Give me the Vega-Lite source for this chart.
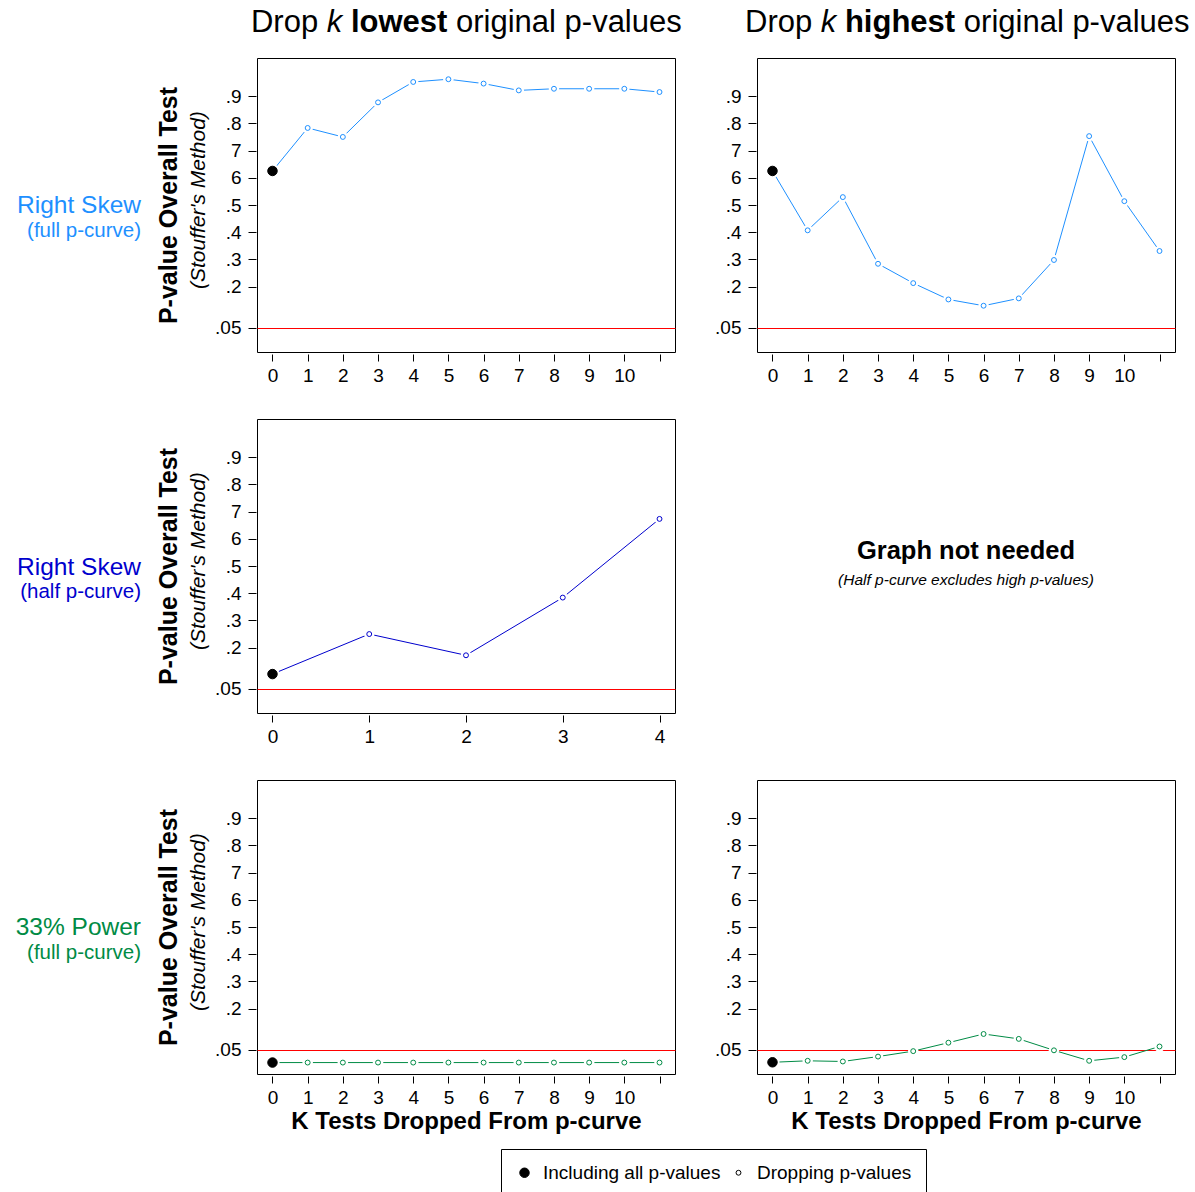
{
  "$schema": "https://vega.github.io/schema/vega-lite/v6.json",
  "background": "white",
  "padding": {"left": 15, "top": 6, "right": 5, "bottom": 0},
  "datasets": {
    "rs_full_low": [
      {"k": 0, "p": 0.625, "type": "Including all p-values"},
      {"k": 1, "p": 0.783, "type": "Dropping p-values"},
      {"k": 2, "p": 0.750, "type": "Dropping p-values"},
      {"k": 3, "p": 0.877, "type": "Dropping p-values"},
      {"k": 4, "p": 0.952, "type": "Dropping p-values"},
      {"k": 5, "p": 0.962, "type": "Dropping p-values"},
      {"k": 6, "p": 0.946, "type": "Dropping p-values"},
      {"k": 7, "p": 0.921, "type": "Dropping p-values"},
      {"k": 8, "p": 0.927, "type": "Dropping p-values"},
      {"k": 9, "p": 0.927, "type": "Dropping p-values"},
      {"k": 10, "p": 0.927, "type": "Dropping p-values"},
      {"k": 11, "p": 0.915, "type": "Dropping p-values"}
    ],
    "rs_full_high": [
      {"k": 0, "p": 0.625, "type": "Including all p-values"},
      {"k": 1, "p": 0.407, "type": "Dropping p-values"},
      {"k": 2, "p": 0.529, "type": "Dropping p-values"},
      {"k": 3, "p": 0.284, "type": "Dropping p-values"},
      {"k": 4, "p": 0.213, "type": "Dropping p-values"},
      {"k": 5, "p": 0.153, "type": "Dropping p-values"},
      {"k": 6, "p": 0.130, "type": "Dropping p-values"},
      {"k": 7, "p": 0.157, "type": "Dropping p-values"},
      {"k": 8, "p": 0.298, "type": "Dropping p-values"},
      {"k": 9, "p": 0.753, "type": "Dropping p-values"},
      {"k": 10, "p": 0.514, "type": "Dropping p-values"},
      {"k": 11, "p": 0.331, "type": "Dropping p-values"}
    ],
    "rs_half_low": [
      {"k": 0, "p": 0.103, "type": "Including all p-values"},
      {"k": 1, "p": 0.250, "type": "Dropping p-values"},
      {"k": 2, "p": 0.172, "type": "Dropping p-values"},
      {"k": 3, "p": 0.384, "type": "Dropping p-values"},
      {"k": 4, "p": 0.673, "type": "Dropping p-values"}
    ],
    "p33_low": [
      {"k": 0, "p": 0.002, "type": "Including all p-values"},
      {"k": 1, "p": 0.002, "type": "Dropping p-values"},
      {"k": 2, "p": 0.002, "type": "Dropping p-values"},
      {"k": 3, "p": 0.002, "type": "Dropping p-values"},
      {"k": 4, "p": 0.002, "type": "Dropping p-values"},
      {"k": 5, "p": 0.002, "type": "Dropping p-values"},
      {"k": 6, "p": 0.002, "type": "Dropping p-values"},
      {"k": 7, "p": 0.002, "type": "Dropping p-values"},
      {"k": 8, "p": 0.002, "type": "Dropping p-values"},
      {"k": 9, "p": 0.002, "type": "Dropping p-values"},
      {"k": 10, "p": 0.002, "type": "Dropping p-values"},
      {"k": 11, "p": 0.002, "type": "Dropping p-values"}
    ],
    "p33_high": [
      {"k": 0, "p": 0.003, "type": "Including all p-values"},
      {"k": 1, "p": 0.0085, "type": "Dropping p-values"},
      {"k": 2, "p": 0.006, "type": "Dropping p-values"},
      {"k": 3, "p": 0.024, "type": "Dropping p-values"},
      {"k": 4, "p": 0.044, "type": "Dropping p-values"},
      {"k": 5, "p": 0.075, "type": "Dropping p-values"},
      {"k": 6, "p": 0.107, "type": "Dropping p-values"},
      {"k": 7, "p": 0.089, "type": "Dropping p-values"},
      {"k": 8, "p": 0.047, "type": "Dropping p-values"},
      {"k": 9, "p": 0.0085, "type": "Dropping p-values"},
      {"k": 10, "p": 0.022, "type": "Dropping p-values"},
      {"k": 11, "p": 0.061, "type": "Dropping p-values"}
    ]
  },
  "columns": 2,
  "spacing": {"row": 67, "column": 82},
  "bounds": "flush",
  "resolve": {"scale": {"fill": "shared", "size": "shared", "stroke": "shared"}},
  "concat": [
    {
      "width": 418, "height": 294,
      "data": {"name": "rs_full_low"},
      "layer": [
        {"mark": {"type": "line", "color": "#1E90FF", "strokeWidth": 1},
         "encoding": {
           "x": {"field": "k", "type": "quantitative", "scale": {"domain": [-0.44, 11.44], "nice": false, "zero": false},
                 "axis": {"values": [0,1,2,3,4,5,6,7,8,9,10,11], "tickCount": 30, "labelExpr": "datum.value <= 10 ? format(datum.value, 'd') : ''", "labelOverlap": false, "offset": 2, "tickSize": 7, "labelPadding": 5, "title": null}},
           "y": {"field": "p", "type": "quantitative", "scale": {"domain": [-0.04, 1.04], "nice": false, "zero": false},
                 "axis": {"values": [0.05,0.2,0.3,0.4,0.5,0.6,0.7,0.8,0.9], "tickCount": 30, "labelExpr": "datum.value == 0.7 ? '7' : datum.value == 0.6 ? '6' : replace(format(datum.value, '.2~f'), '0.', '.')", "labelOverlap": false, "offset": 1, "tickSize": 8, "labelPadding": 7,
                          "grid": true, "gridColor": "#FF0000", "gridWidth": 1, "gridOpacity": {"condition": {"test": "datum.value == 0.05", "value": 1}, "value": 0},
                          "title": "P-value Overall Test", "titleFontSize": 25, "titleFontWeight": "bold", "titlePadding": 33}}}},
        {"mark": {"type": "point", "filled": true, "fill": "white", "strokeWidth": 0, "opacity": 1},
         "encoding": {"x": {"field": "k", "type": "quantitative"}, "y": {"field": "p", "type": "quantitative"},
                      "size": {"condition": {"test": "datum.k === 0", "value": 200}, "value": 110}}},
        {"transform": [{"filter": "datum.k > 0"}],
         "mark": {"type": "point", "filled": true, "fill": "white", "stroke": "#1E90FF", "strokeWidth": 1, "size": 24, "opacity": 1},
         "encoding": {"x": {"field": "k", "type": "quantitative"}, "y": {"field": "p", "type": "quantitative"}}},
        {"transform": [{"filter": "datum.k === 0"}],
         "mark": {"type": "point", "filled": true, "strokeWidth": 1, "opacity": 1},
         "encoding": {"x": {"field": "k", "type": "quantitative"}, "y": {"field": "p", "type": "quantitative"},
                      "fill": {"field": "type", "type": "ordinal", "scale": {"domain": ["Including all p-values", "Dropping p-values"], "range": ["black", "white"]}, "legend": {"title": null}},
                      "size": {"field": "type", "type": "ordinal", "scale": {"domain": ["Including all p-values", "Dropping p-values"], "range": [90, 24]}, "legend": {"title": null}},
                      "stroke": {"field": "type", "type": "ordinal", "scale": {"domain": ["Including all p-values", "Dropping p-values"], "range": ["black", "black"]}, "legend": {"title": null}}}},
        {"data": {"values": [{"t": "Drop"}]}, "mark": {"type": "text", "align": "left", "baseline": "alphabetic", "fontSize": 31},
         "encoding": {"x": {"datum": -0.611, "type": "quantitative"}, "y": {"datum": 1.137, "type": "quantitative"}, "text": {"field": "t"}}},
        {"data": {"values": [{"t": "k"}]}, "mark": {"type": "text", "align": "left", "baseline": "alphabetic", "fontSize": 31, "fontStyle": "italic"},
         "encoding": {"x": {"datum": 1.544, "type": "quantitative"}, "y": {"datum": 1.137, "type": "quantitative"}, "text": {"field": "t"}}},
        {"data": {"values": [{"t": "lowest"}]}, "mark": {"type": "text", "align": "left", "baseline": "alphabetic", "fontSize": 31, "fontWeight": "bold"},
         "encoding": {"x": {"datum": 2.229, "type": "quantitative"}, "y": {"datum": 1.137, "type": "quantitative"}, "text": {"field": "t"}}},
        {"data": {"values": [{"t": "original p-values"}]}, "mark": {"type": "text", "align": "left", "baseline": "alphabetic", "fontSize": 31},
         "encoding": {"x": {"datum": 5.216, "type": "quantitative"}, "y": {"datum": 1.137, "type": "quantitative"}, "text": {"field": "t"}}},
        {"data": {"values": [{"t": "Right Skew"}]}, "mark": {"type": "text", "align": "right", "baseline": "alphabetic", "fontSize": 24.5, "color": "#1E90FF"},
         "encoding": {"x": {"datum": -3.737, "type": "quantitative"}, "y": {"datum": 0.4695, "type": "quantitative"}, "text": {"field": "t"}}},
        {"data": {"values": [{"t": "(full p-curve)"}]}, "mark": {"type": "text", "align": "right", "baseline": "alphabetic", "fontSize": 20.5, "color": "#1E90FF"},
         "encoding": {"x": {"datum": -3.737, "type": "quantitative"}, "y": {"datum": 0.3824, "type": "quantitative"}, "text": {"field": "t"}}},
        {"data": {"values": [{"t": "(Stouffer's Method)"}]}, "mark": {"type": "text", "align": "center", "baseline": "middle", "fontSize": 21, "fontStyle": "italic", "angle": 270},
         "encoding": {"x": {"datum": -2.088, "type": "quantitative"}, "y": {"datum": 0.518, "type": "quantitative"}, "text": {"field": "t"}}}
      ]
    },
    {
      "width": 418, "height": 294,
      "data": {"name": "rs_full_high"},
      "layer": [
        {"mark": {"type": "line", "color": "#1E90FF", "strokeWidth": 1},
         "encoding": {
           "x": {"field": "k", "type": "quantitative", "scale": {"domain": [-0.44, 11.44], "nice": false, "zero": false},
                 "axis": {"values": [0,1,2,3,4,5,6,7,8,9,10,11], "tickCount": 30, "labelExpr": "datum.value <= 10 ? format(datum.value, 'd') : ''", "labelOverlap": false, "offset": 2, "tickSize": 7, "labelPadding": 5, "title": null}},
           "y": {"field": "p", "type": "quantitative", "scale": {"domain": [-0.04, 1.04], "nice": false, "zero": false},
                 "axis": {"values": [0.05,0.2,0.3,0.4,0.5,0.6,0.7,0.8,0.9], "tickCount": 30, "labelExpr": "datum.value == 0.7 ? '7' : datum.value == 0.6 ? '6' : replace(format(datum.value, '.2~f'), '0.', '.')", "labelOverlap": false, "offset": 1, "tickSize": 8, "labelPadding": 7,
                          "grid": true, "gridColor": "#FF0000", "gridWidth": 1, "gridOpacity": {"condition": {"test": "datum.value == 0.05", "value": 1}, "value": 0},
                          "title": null}}}},
        {"mark": {"type": "point", "filled": true, "fill": "white", "strokeWidth": 0, "opacity": 1},
         "encoding": {"x": {"field": "k", "type": "quantitative"}, "y": {"field": "p", "type": "quantitative"},
                      "size": {"condition": {"test": "datum.k === 0", "value": 200}, "value": 110}}},
        {"transform": [{"filter": "datum.k > 0"}],
         "mark": {"type": "point", "filled": true, "fill": "white", "stroke": "#1E90FF", "strokeWidth": 1, "size": 24, "opacity": 1},
         "encoding": {"x": {"field": "k", "type": "quantitative"}, "y": {"field": "p", "type": "quantitative"}}},
        {"transform": [{"filter": "datum.k === 0"}],
         "mark": {"type": "point", "filled": true, "strokeWidth": 1, "opacity": 1},
         "encoding": {"x": {"field": "k", "type": "quantitative"}, "y": {"field": "p", "type": "quantitative"},
                      "fill": {"field": "type", "type": "ordinal", "scale": {"domain": ["Including all p-values", "Dropping p-values"], "range": ["black", "white"]}, "legend": {"title": null}},
                      "size": {"field": "type", "type": "ordinal", "scale": {"domain": ["Including all p-values", "Dropping p-values"], "range": [90, 24]}, "legend": {"title": null}},
                      "stroke": {"field": "type", "type": "ordinal", "scale": {"domain": ["Including all p-values", "Dropping p-values"], "range": ["black", "black"]}, "legend": {"title": null}}}},
        {"data": {"values": [{"t": "Drop"}]}, "mark": {"type": "text", "align": "left", "baseline": "alphabetic", "fontSize": 31},
         "encoding": {"x": {"datum": -0.781, "type": "quantitative"}, "y": {"datum": 1.137, "type": "quantitative"}, "text": {"field": "t"}}},
        {"data": {"values": [{"t": "k"}]}, "mark": {"type": "text", "align": "left", "baseline": "alphabetic", "fontSize": 31, "fontStyle": "italic"},
         "encoding": {"x": {"datum": 1.373, "type": "quantitative"}, "y": {"datum": 1.137, "type": "quantitative"}, "text": {"field": "t"}}},
        {"data": {"values": [{"t": "highest"}]}, "mark": {"type": "text", "align": "left", "baseline": "alphabetic", "fontSize": 31, "fontWeight": "bold"},
         "encoding": {"x": {"datum": 2.058, "type": "quantitative"}, "y": {"datum": 1.137, "type": "quantitative"}, "text": {"field": "t"}}},
        {"data": {"values": [{"t": "original p-values"}]}, "mark": {"type": "text", "align": "left", "baseline": "alphabetic", "fontSize": 31},
         "encoding": {"x": {"datum": 5.438, "type": "quantitative"}, "y": {"datum": 1.137, "type": "quantitative"}, "text": {"field": "t"}}}
      ]
    },
    {
      "width": 418, "height": 294,
      "data": {"name": "rs_half_low"},
      "layer": [
        {"mark": {"type": "line", "color": "#0000CD", "strokeWidth": 1},
         "encoding": {
           "x": {"field": "k", "type": "quantitative", "scale": {"domain": [-0.16, 4.16], "nice": false, "zero": false},
                 "axis": {"values": [0,1,2,3,4], "tickCount": 30, "labelExpr": "format(datum.value, 'd')", "labelOverlap": false, "offset": 2, "tickSize": 7, "labelPadding": 5, "title": null}},
           "y": {"field": "p", "type": "quantitative", "scale": {"domain": [-0.04, 1.04], "nice": false, "zero": false},
                 "axis": {"values": [0.05,0.2,0.3,0.4,0.5,0.6,0.7,0.8,0.9], "tickCount": 30, "labelExpr": "datum.value == 0.7 ? '7' : datum.value == 0.6 ? '6' : replace(format(datum.value, '.2~f'), '0.', '.')", "labelOverlap": false, "offset": 1, "tickSize": 8, "labelPadding": 7,
                          "grid": true, "gridColor": "#FF0000", "gridWidth": 1, "gridOpacity": {"condition": {"test": "datum.value == 0.05", "value": 1}, "value": 0},
                          "title": "P-value Overall Test", "titleFontSize": 25, "titleFontWeight": "bold", "titlePadding": 33}}}},
        {"mark": {"type": "point", "filled": true, "fill": "white", "strokeWidth": 0, "opacity": 1},
         "encoding": {"x": {"field": "k", "type": "quantitative"}, "y": {"field": "p", "type": "quantitative"},
                      "size": {"condition": {"test": "datum.k === 0", "value": 200}, "value": 110}}},
        {"transform": [{"filter": "datum.k > 0"}],
         "mark": {"type": "point", "filled": true, "fill": "white", "stroke": "#0000CD", "strokeWidth": 1, "size": 24, "opacity": 1},
         "encoding": {"x": {"field": "k", "type": "quantitative"}, "y": {"field": "p", "type": "quantitative"}}},
        {"transform": [{"filter": "datum.k === 0"}],
         "mark": {"type": "point", "filled": true, "strokeWidth": 1, "opacity": 1},
         "encoding": {"x": {"field": "k", "type": "quantitative"}, "y": {"field": "p", "type": "quantitative"},
                      "fill": {"field": "type", "type": "ordinal", "scale": {"domain": ["Including all p-values", "Dropping p-values"], "range": ["black", "white"]}, "legend": {"title": null}},
                      "size": {"field": "type", "type": "ordinal", "scale": {"domain": ["Including all p-values", "Dropping p-values"], "range": [90, 24]}, "legend": {"title": null}},
                      "stroke": {"field": "type", "type": "ordinal", "scale": {"domain": ["Including all p-values", "Dropping p-values"], "range": ["black", "black"]}, "legend": {"title": null}}}},
        {"data": {"values": [{"t": "Right Skew"}]}, "mark": {"type": "text", "align": "right", "baseline": "alphabetic", "fontSize": 24.5, "color": "#0000CD"},
         "encoding": {"x": {"datum": -1.359, "type": "quantitative"}, "y": {"datum": 0.466, "type": "quantitative"}, "text": {"field": "t"}}},
        {"data": {"values": [{"t": "(half p-curve)"}]}, "mark": {"type": "text", "align": "right", "baseline": "alphabetic", "fontSize": 20.5, "color": "#0000CD"},
         "encoding": {"x": {"datum": -1.359, "type": "quantitative"}, "y": {"datum": 0.382, "type": "quantitative"}, "text": {"field": "t"}}},
        {"data": {"values": [{"t": "(Stouffer's Method)"}]}, "mark": {"type": "text", "align": "center", "baseline": "middle", "fontSize": 21, "fontStyle": "italic", "angle": 270},
         "encoding": {"x": {"datum": -0.759, "type": "quantitative"}, "y": {"datum": 0.518, "type": "quantitative"}, "text": {"field": "t"}}}
      ]
    },
    {
      "width": 418, "height": 294,
      "view": {"stroke": null},
      "data": {"values": [{"t": "Graph not needed", "n": "(Half p-curve excludes high p-values)"}]},
      "layer": [
        {"mark": {"type": "text", "align": "center", "baseline": "alphabetic", "fontSize": 25.5, "fontWeight": "bold"},
         "encoding": {"x": {"datum": 0.5, "type": "quantitative", "scale": {"domain": [0, 1]}, "axis": null},
                      "y": {"datum": 0.525, "type": "quantitative", "scale": {"domain": [0, 1]}, "axis": null},
                      "text": {"field": "t"}}},
        {"mark": {"type": "text", "align": "center", "baseline": "alphabetic", "fontSize": 15.5, "fontStyle": "italic"},
         "encoding": {"x": {"datum": 0.5, "type": "quantitative"},
                      "y": {"datum": 0.435, "type": "quantitative"},
                      "text": {"field": "n"}}}
      ]
    },
    {
      "width": 418, "height": 294,
      "data": {"name": "p33_low"},
      "layer": [
        {"mark": {"type": "line", "color": "#008B45", "strokeWidth": 1},
         "encoding": {
           "x": {"field": "k", "type": "quantitative", "scale": {"domain": [-0.44, 11.44], "nice": false, "zero": false},
                 "axis": {"values": [0,1,2,3,4,5,6,7,8,9,10,11], "tickCount": 30, "labelExpr": "datum.value <= 10 ? format(datum.value, 'd') : ''", "labelOverlap": false, "offset": 2, "tickSize": 7, "labelPadding": 5, "title": "K Tests Dropped From p-curve", "titleFontSize": 24, "titleFontWeight": "bold", "titlePadding": 2}},
           "y": {"field": "p", "type": "quantitative", "scale": {"domain": [-0.04, 1.04], "nice": false, "zero": false},
                 "axis": {"values": [0.05,0.2,0.3,0.4,0.5,0.6,0.7,0.8,0.9], "tickCount": 30, "labelExpr": "datum.value == 0.7 ? '7' : datum.value == 0.6 ? '6' : replace(format(datum.value, '.2~f'), '0.', '.')", "labelOverlap": false, "offset": 1, "tickSize": 8, "labelPadding": 7,
                          "grid": true, "gridColor": "#FF0000", "gridWidth": 1, "gridOpacity": {"condition": {"test": "datum.value == 0.05", "value": 1}, "value": 0},
                          "title": "P-value Overall Test", "titleFontSize": 25, "titleFontWeight": "bold", "titlePadding": 33}}}},
        {"mark": {"type": "point", "filled": true, "fill": "white", "strokeWidth": 0, "opacity": 1},
         "encoding": {"x": {"field": "k", "type": "quantitative"}, "y": {"field": "p", "type": "quantitative"},
                      "size": {"condition": {"test": "datum.k === 0", "value": 200}, "value": 110}}},
        {"transform": [{"filter": "datum.k > 0"}],
         "mark": {"type": "point", "filled": true, "fill": "white", "stroke": "#008B45", "strokeWidth": 1, "size": 24, "opacity": 1},
         "encoding": {"x": {"field": "k", "type": "quantitative"}, "y": {"field": "p", "type": "quantitative"}}},
        {"transform": [{"filter": "datum.k === 0"}],
         "mark": {"type": "point", "filled": true, "strokeWidth": 1, "opacity": 1},
         "encoding": {"x": {"field": "k", "type": "quantitative"}, "y": {"field": "p", "type": "quantitative"},
                      "fill": {"field": "type", "type": "ordinal", "scale": {"domain": ["Including all p-values", "Dropping p-values"], "range": ["black", "white"]}, "legend": {"title": null}},
                      "size": {"field": "type", "type": "ordinal", "scale": {"domain": ["Including all p-values", "Dropping p-values"], "range": [90, 24]}, "legend": {"title": null}},
                      "stroke": {"field": "type", "type": "ordinal", "scale": {"domain": ["Including all p-values", "Dropping p-values"], "range": ["black", "black"]}, "legend": {"title": null}}}},
        {"data": {"values": [{"t": "33% Power"}]}, "mark": {"type": "text", "align": "right", "baseline": "alphabetic", "fontSize": 24.5, "color": "#008B45"},
         "encoding": {"x": {"datum": -3.737, "type": "quantitative"}, "y": {"datum": 0.4695, "type": "quantitative"}, "text": {"field": "t"}}},
        {"data": {"values": [{"t": "(full p-curve)"}]}, "mark": {"type": "text", "align": "right", "baseline": "alphabetic", "fontSize": 20.5, "color": "#008B45"},
         "encoding": {"x": {"datum": -3.737, "type": "quantitative"}, "y": {"datum": 0.3824, "type": "quantitative"}, "text": {"field": "t"}}},
        {"data": {"values": [{"t": "(Stouffer's Method)"}]}, "mark": {"type": "text", "align": "center", "baseline": "middle", "fontSize": 21, "fontStyle": "italic", "angle": 270},
         "encoding": {"x": {"datum": -2.088, "type": "quantitative"}, "y": {"datum": 0.518, "type": "quantitative"}, "text": {"field": "t"}}}
      ]
    },
    {
      "width": 418, "height": 294,
      "data": {"name": "p33_high"},
      "layer": [
        {"mark": {"type": "line", "color": "#008B45", "strokeWidth": 1},
         "encoding": {
           "x": {"field": "k", "type": "quantitative", "scale": {"domain": [-0.44, 11.44], "nice": false, "zero": false},
                 "axis": {"values": [0,1,2,3,4,5,6,7,8,9,10,11], "tickCount": 30, "labelExpr": "datum.value <= 10 ? format(datum.value, 'd') : ''", "labelOverlap": false, "offset": 2, "tickSize": 7, "labelPadding": 5, "title": "K Tests Dropped From p-curve", "titleFontSize": 24, "titleFontWeight": "bold", "titlePadding": 2}},
           "y": {"field": "p", "type": "quantitative", "scale": {"domain": [-0.04, 1.04], "nice": false, "zero": false},
                 "axis": {"values": [0.05,0.2,0.3,0.4,0.5,0.6,0.7,0.8,0.9], "tickCount": 30, "labelExpr": "datum.value == 0.7 ? '7' : datum.value == 0.6 ? '6' : replace(format(datum.value, '.2~f'), '0.', '.')", "labelOverlap": false, "offset": 1, "tickSize": 8, "labelPadding": 7,
                          "grid": true, "gridColor": "#FF0000", "gridWidth": 1, "gridOpacity": {"condition": {"test": "datum.value == 0.05", "value": 1}, "value": 0},
                          "title": null}}}},
        {"mark": {"type": "point", "filled": true, "fill": "white", "strokeWidth": 0, "opacity": 1},
         "encoding": {"x": {"field": "k", "type": "quantitative"}, "y": {"field": "p", "type": "quantitative"},
                      "size": {"condition": {"test": "datum.k === 0", "value": 200}, "value": 110}}},
        {"transform": [{"filter": "datum.k > 0"}],
         "mark": {"type": "point", "filled": true, "fill": "white", "stroke": "#008B45", "strokeWidth": 1, "size": 24, "opacity": 1},
         "encoding": {"x": {"field": "k", "type": "quantitative"}, "y": {"field": "p", "type": "quantitative"}}},
        {"transform": [{"filter": "datum.k === 0"}],
         "mark": {"type": "point", "filled": true, "strokeWidth": 1, "opacity": 1},
         "encoding": {"x": {"field": "k", "type": "quantitative"}, "y": {"field": "p", "type": "quantitative"},
                      "fill": {"field": "type", "type": "ordinal", "scale": {"domain": ["Including all p-values", "Dropping p-values"], "range": ["black", "white"]}, "legend": {"title": null}},
                      "size": {"field": "type", "type": "ordinal", "scale": {"domain": ["Including all p-values", "Dropping p-values"], "range": [90, 24]}, "legend": {"title": null}},
                      "stroke": {"field": "type", "type": "ordinal", "scale": {"domain": ["Including all p-values", "Dropping p-values"], "range": ["black", "black"]}, "legend": {"title": null}}}}
      ]
    }
  ],
  "config": {
    "font": "Liberation Sans",
    "view": {"stroke": "black", "strokeWidth": 1},
    "axis": {"domain": false, "grid": false, "tickColor": "black", "tickWidth": 1, "labelColor": "black", "titleColor": "black",
             "labelFont": "Liberation Sans", "titleFont": "Liberation Sans", "labelFontSize": 19, "labelOverlap": false, "labelFlush": false},
    "text": {"font": "Liberation Sans", "color": "black"},
    "legend": {"orient": "none", "legendX": 244, "legendY": 1091, "direction": "horizontal", "strokeColor": "black", "fillColor": "white",
               "padding": 14, "labelFont": "Liberation Sans", "labelFontSize": 19, "labelColor": "black", "labelOffset": 9, "columnPadding": 8, "labelLimit": 400,
               "symbolStrokeWidth": 1, "symbolType": "circle"}
  }
}
